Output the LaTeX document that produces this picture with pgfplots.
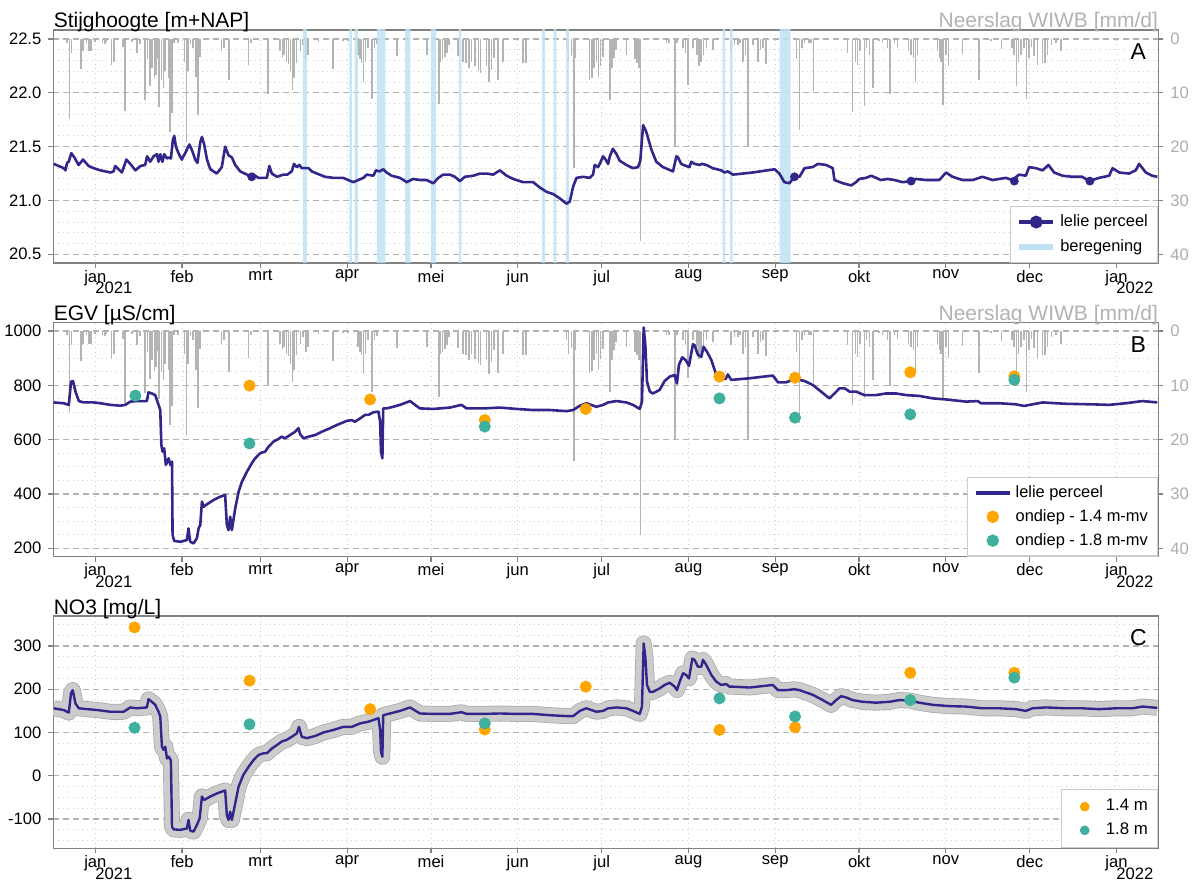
\documentclass[border=0pt]{standalone}
\usepackage{fontspec}
\setmainfont{Liberation Sans}
\usepackage{pgfplots}
\pgfplotsset{compat=1.18}
\usepackage{pgfplotstable}

\definecolor{lelie}{RGB}{49,38,138}
\definecolor{oranje}{RGB}{255,165,0}
\definecolor{teal2}{RGB}{64,176,158}
\definecolor{bereg}{RGB}{190,226,244}
\definecolor{rain}{RGB}{180,180,180}
\definecolor{axgray}{RGB}{130,130,130}

% precipitation WIWB (day since 2021-01-01, mm/d)
\pgfplotstableread{
day mm
-10.2 0.7
-9.3 14.9
-8.5 2.6
-5.2 5.5
-4.5 2.3
-3.1 0.7
-2.3 2.3
-1.6 2.3
-0.1 0.5
2.5 0.7
3.4 0.9
4.0 0.6
5.8 4.9
6.7 4.2
9.8 1.5
10.6 13.3
13.0 0.5
14.8 2.6
15.9 0.9
17.7 11.4
18.6 3.8
19.5 8.8
20.3 5.4
21.1 7.2
21.7 6.6
22.4 3.7
22.8 12.6
23.6 7.6
24.3 9.1
25.0 6.0
26.1 7.2
26.7 17.3
27.4 13.8
28.1 0.7
29.5 0.7
31.8 4.2
32.6 19.1
33.2 6.0
34.0 0.9
35.0 1.7
35.9 7.1
36.6 14.2
37.4 3.4
45.1 2.3
45.9 1.7
47.7 7.6
54.7 4.9
55.6 0.7
61.8 10.2
65.9 2.3
66.9 3.4
67.5 3.0
68.3 4.2
69.0 4.6
69.7 6.0
70.4 9.4
70.9 7.2
71.9 4.5
73.3 2.3
74.3 1.1
75.2 3.8
76.0 3.0
79.8 0.6
85.0 5.5
88.5 0.4
90.3 0.4
93.9 3.0
94.5 3.8
95.1 4.5
95.9 7.9
96.6 4.2
97.5 1.7
98.9 11.2
99.8 1.7
100.7 0.9
107.8 3.1
118.6 2.9
122.8 12.1
123.4 4.2
124.1 3.8
124.9 3.4
125.8 2.6
126.5 1.1
129.7 3.2
131.5 4.2
132.5 4.5
133.6 5.3
134.5 4.2
135.7 5.1
136.9 5.9
137.7 6.3
139.8 5.1
140.7 8.0
141.6 5.7
142.4 3.5
144.0 7.7
145.8 4.2
152.9 4.5
153.9 4.5
168.4 1.7
169.2 4.2
170.2 3.2
171.0 23.9
171.7 3.5
176.7 7.7
177.6 7.3
178.3 5.3
179.1 4.2
179.9 7.1
180.6 5.1
181.5 3.3
183.9 11.3
184.7 5.4
185.4 3.5
186.2 2.0
189.8 3.0
192.8 3.8
193.6 4.5
194.3 5.4
194.9 37.5
204.1 0.7
205.0 0.7
207.1 20.0
207.9 0.7
210.0 1.7
210.9 2.6
211.8 8.6
213.6 1.7
215.0 3.0
215.8 5.1
216.6 4.2
217.4 3.0
218.4 1.7
220.8 2.0
227.3 2.6
228.5 1.1
229.7 1.1
230.5 0.7
231.5 4.2
232.4 3.0
233.3 20.0
235.0 1.1
236.8 4.2
237.7 2.0
238.6 1.7
239.8 4.6
250.7 3.8
251.7 16.9
252.6 1.7
253.5 0.7
255.2 0.7
255.9 0.7
256.7 9.6
268.9 2.6
270.7 13.6
271.7 4.2
272.5 4.8
273.3 2.3
274.9 12.4
275.7 1.7
276.7 3.0
277.9 9.1
280.2 0.4
281.4 0.7
283.2 1.7
284.0 10.2
285.6 0.7
286.8 1.4
290.7 2.3
291.5 3.0
292.4 3.5
293.1 7.9
293.9 3.0
301.1 2.3
301.7 3.5
302.3 4.2
303.1 12.3
304.0 3.0
305.0 5.0
310.0 2.8
315.9 7.7
320.1 0.4
323.9 1.9
327.6 1.7
328.4 3.0
329.3 8.8
330.0 4.2
330.8 3.0
332.0 1.7
332.8 11.2
333.8 3.5
334.6 1.4
335.6 3.2
336.8 4.9
338.5 4.5
339.5 4.5
340.3 3.0
341.8 1.1
343.3 0.7
345.1 2.3
}\precip

% Stijghoogte lelie perceel (m+NAP)
\pgfplotstableread{
day h
-14.9 21.34
-11.3 21.30
-10.7 21.28
-10.1 21.35
-9.5 21.36
-8.6 21.44
-7.5 21.40
-6.0 21.33
-4.4 21.38
-2.4 21.32
-0.6 21.30
1.8 21.28
5.4 21.26
6.5 21.27
7.1 21.32
8.3 21.29
9.5 21.26
11.1 21.38
12.5 21.34
14.3 21.28
16.1 21.32
17.8 21.33
18.5 21.41
19.6 21.36
20.8 21.41
22.0 21.43
22.6 21.36
23.2 21.43
24.0 21.36
24.6 21.43
25.6 21.39
26.2 21.40
27.0 21.39
27.7 21.56
28.2 21.60
28.8 21.50
29.7 21.44
30.9 21.38
32.1 21.44
33.6 21.52
34.5 21.47
35.7 21.38
36.5 21.35
37.5 21.54
38.1 21.59
38.9 21.52
39.9 21.38
41.1 21.29
43.4 21.25
45.2 21.31
46.4 21.50
47.6 21.42
48.8 21.40
50.0 21.33
51.8 21.27
54.2 21.24
55.3 21.22
56.5 21.24
58.3 21.21
61.3 21.21
62.2 21.32
63.1 21.25
64.9 21.22
67.2 21.24
68.6 21.24
70.2 21.27
71.0 21.34
72.0 21.31
72.9 21.33
73.8 21.30
75.0 21.30
76.2 21.30
77.4 21.27
79.2 21.25
82.1 21.22
85.1 21.21
88.6 21.21
90.4 21.19
92.2 21.17
94.0 21.19
95.8 21.21
97.0 21.24
99.4 21.23
100.3 21.28
101.7 21.27
102.9 21.29
104.1 21.26
105.9 21.23
108.9 21.21
111.3 21.17
113.6 21.20
116.0 21.19
118.4 21.19
120.8 21.16
122.6 21.21
124.3 21.24
126.7 21.24
128.5 21.22
130.3 21.18
132.1 21.22
135.1 21.23
137.5 21.25
139.9 21.25
142.2 21.24
144.6 21.28
147.0 21.23
149.4 21.20
152.9 21.17
156.5 21.17
158.9 21.12
161.3 21.08
163.6 21.06
166.0 21.02
168.4 20.97
169.6 20.99
170.8 21.13
172.0 21.21
174.3 21.22
176.7 21.21
177.9 21.24
178.5 21.33
179.7 21.31
180.3 21.34
181.5 21.41
182.4 21.38
183.3 21.34
183.9 21.41
185.0 21.48
186.3 21.43
187.4 21.37
189.8 21.33
192.2 21.30
194.0 21.31
194.8 21.37
195.8 21.70
196.9 21.64
198.8 21.47
200.5 21.36
202.9 21.31
206.5 21.27
207.7 21.41
208.3 21.40
209.4 21.34
211.2 21.32
212.4 21.31
213.0 21.36
214.2 21.34
216.0 21.33
216.9 21.34
218.4 21.33
220.7 21.30
223.7 21.28
224.9 21.26
226.1 21.27
227.9 21.24
235.0 21.26
242.8 21.29
244.5 21.25
246.3 21.17
248.1 21.16
249.9 21.22
251.7 21.22
253.5 21.30
256.4 21.31
258.3 21.34
261.2 21.33
263.6 21.30
264.2 21.19
267.2 21.16
270.2 21.14
271.9 21.17
273.1 21.20
275.5 21.21
277.3 21.23
279.1 21.21
280.8 21.19
283.2 21.20
285.6 21.19
288.6 21.17
291.6 21.18
293.3 21.20
296.9 21.19
301.7 21.19
304.1 21.26
306.4 21.22
310.0 21.19
313.6 21.19
317.1 21.22
320.7 21.19
325.5 21.21
327.8 21.19
330.2 21.24
332.6 21.23
333.8 21.31
336.2 21.30
338.6 21.28
340.7 21.33
342.7 21.26
345.7 21.23
349.3 21.22
352.8 21.22
355.2 21.18
358.8 21.21
362.4 21.23
363.6 21.30
366.0 21.26
369.5 21.25
371.9 21.28
373.1 21.34
375.5 21.26
377.8 21.23
379.6 21.22
}\stijg

\pgfplotstableread{
day h
55.9 21.22
249.9 21.22
291.6 21.18
328.5 21.18
355.5 21.18
}\stijgpunt

% EGV lelie perceel (uS/cm)
\pgfplotstableread{
day egv
-14.9 737
-11.3 734
-9.5 728
-8.7 813
-8.0 816
-7.1 777
-5.9 742
-4.2 737
-0.6 737
1.8 734
5.4 728
8.9 725
10.7 728
12.5 740
14.9 742
18.4 742
19.0 774
20.2 770
21.4 764
22.6 728
23.2 709
23.6 580
24.0 556
24.6 568
25.2 507
26.2 531
26.8 507
27.4 519
27.6 249
28.2 227
30.4 224
32.7 230
33.3 273
33.9 224
35.1 218
36.3 237
36.9 273
37.5 286
38.1 372
38.7 353
39.9 362
42.3 378
44.6 390
46.4 396
47.0 286
47.6 267
48.2 316
48.8 267
50.0 347
51.2 408
52.4 445
54.2 482
55.9 513
57.1 531
58.9 550
60.7 556
61.9 574
63.7 593
65.4 602
66.6 611
67.8 605
69.6 617
71.4 629
72.6 642
73.2 620
74.4 605
76.2 611
78.6 617
80.9 629
83.9 642
86.3 654
89.9 669
91.6 672
92.8 666
94.6 678
96.4 691
97.6 691
99.4 701
101.2 703
101.8 666
102.1 556
102.6 531
102.9 715
104.1 715
106.5 721
108.9 728
112.5 742
114.3 728
116.0 715
120.8 713
126.7 718
130.9 728
132.7 715
138.7 715
144.6 718
150.6 713
156.5 709
162.5 709
168.4 705
170.8 709
173.2 725
175.5 734
179.1 721
181.5 728
183.3 737
186.3 742
189.8 737
192.2 728
194.6 713
195.4 740
196.0 1013
196.6 948
197.2 813
198.2 777
199.3 770
201.7 783
203.5 816
205.3 832
207.1 838
207.9 807
208.6 875
209.8 903
211.0 893
212.2 872
213.6 951
214.2 948
215.4 912
216.6 905
217.4 942
218.6 924
220.2 893
221.9 840
223.1 832
225.3 823
226.1 840
227.3 820
233.9 826
242.2 836
244.0 811
246.9 811
249.9 823
251.7 820
253.5 816
256.5 801
259.4 777
262.4 752
264.2 770
266.0 789
267.8 789
269.6 777
271.9 777
274.9 764
279.1 764
282.6 770
286.2 770
289.8 764
294.5 761
299.3 752
304.1 748
311.2 740
315.4 742
316.6 734
323.1 734
329.1 730
332.0 724
335.0 730
338.6 737
346.9 732
356.4 730
362.4 728
368.3 734
374.3 742
379.6 737
}\egv

\pgfplotstableread{
day v
55.1 799
98.2 748
139.2 672
175.3 713
223.1 832
250.1 828
291.3 848
328.5 833
}\egvor
\pgfplotstableread{
day v
14.3 762
55.1 586
139.2 648
223.1 752
250.1 681
291.3 693
328.5 820
}\egvte

% NO3 (mg/L)
\pgfplotstableread{
day no
-14.9 156
-11.3 152
-9.5 146
-8.7 191
-8.1 198
-7.1 167
-5.9 156
-2.9 154
0.6 152
5.4 148
10.1 148
12.5 158
14.9 156
18.4 158
19.0 177
20.2 171
21.4 164
22.6 148
23.2 137
23.8 67
24.4 60
25.0 67
25.6 40
26.2 44
27.0 36
27.4 -118
28.0 -124
30.4 -125
32.7 -122
33.3 -102
33.9 -127
35.1 -129
36.3 -114
37.3 -98
38.1 -48
38.9 -56
41.1 -48
43.4 -41
46.4 -34
47.0 -91
47.6 -102
48.2 -83
48.8 -102
50.0 -64
51.2 -25
52.9 2
54.8 21
56.5 36
58.3 48
60.1 52
61.3 52
63.1 63
64.9 71
66.6 79
68.4 83
70.2 90
72.0 98
72.8 113
73.8 90
75.6 87
78.6 92
81.5 100
85.1 106
88.6 113
91.6 113
94.6 121
97.6 125
99.4 129
101.2 133
101.8 106
102.1 56
102.6 44
102.9 140
105.3 144
108.9 150
112.5 158
116.0 144
120.8 143
126.7 143
130.9 147
132.7 143
138.7 143
144.6 144
150.6 143
156.5 143
162.5 140
168.4 138
170.8 138
173.2 150
175.5 156
179.1 148
181.5 150
183.3 156
186.3 158
189.8 156
192.2 150
194.6 143
195.4 160
196.0 306
196.6 275
197.2 210
198.2 194
199.3 194
201.7 202
203.5 210
205.3 215
207.1 206
207.9 198
208.9 218
210.1 237
211.2 233
212.2 225
213.4 271
214.2 268
215.4 252
216.6 252
217.2 268
218.4 256
220.2 233
221.9 218
223.7 210
225.5 212
226.7 206
227.9 206
233.9 204
242.2 210
244.0 198
246.9 198
249.9 200
251.7 198
256.5 187
260.0 175
263.0 164
264.8 175
266.6 184
268.4 181
270.7 175
274.3 171
279.1 169
283.8 171
287.4 175
291.0 174
294.5 169
299.3 164
305.3 161
311.2 160
317.2 156
323.1 156
329.1 154
332.6 150
335.0 156
339.8 158
346.9 156
352.9 156
358.8 154
364.8 156
370.7 156
374.3 160
379.6 157
}\nitraat

\pgfplotstableread{
day v
14.0 343
55.1 220
98.2 154
139.2 107
175.3 206
223.1 106
250.1 112
291.3 238
328.5 238
}\noor
\pgfplotstableread{
day v
14.0 111
55.1 119
139.2 121
223.1 179
250.1 137
291.3 175
328.5 227
}\note

\pgfplotsset{
  base/.style={
    scale only axis, width=552.5pt,
    xmin=-15, xmax=380,
    xtick={0,31,59,90,120,151,181,212,243,273,304,334,365},
    xtick pos=bottom,
    axis line style={axgray, line width=0.7pt},
    tick style={axgray, line width=0.6pt},
    major tick length=2.5pt, minor tick length=0pt,
    tick align=outside,
    tick label style={font=\fontsize{8.3}{9.4}\selectfont},
    /pgf/number format/assume math mode=true,
  },
  pgrid/.style={
    xmajorgrids, ymajorgrids, yminorgrids,
    major x grid style={gray!40, dotted, line width=0.5pt},
    major y grid style={gray!60, dash pattern=on 3pt off 2pt, line width=0.6pt},
    minor y grid style={gray!40, dotted, line width=0.5pt},
  },
  xlabs/.style={
    xticklabels={{jan\\[-3.5pt]\rlap{2021}},feb,mrt,apr,mei,jun,jul,aug,sep,okt,nov,dec,{jan\\[-3.5pt]\rlap{2022}}},
    xticklabel style={align=center, yshift=2.5pt},
  },
  leg/.style={
    legend cell align=left,
    legend style={at={(1,0)}, anchor=south east, draw=gray!40, line width=0.6pt,
      fill=white, font=\fontsize{8.2}{9.4}\selectfont, inner xsep=3pt, inner ysep=2pt,
      row sep=0pt},
  },
  wideimg/.style={
    legend image code/.code={%
      \path[draw=none,fill=none] (0cm,0cm) (0.6cm,0cm);
      \draw[mark repeat=2,mark phase=2,##1] plot coordinates {(0cm,0cm) (0.3cm,0cm) (0.6cm,0cm)};}
  },
}

\begin{document}
\begin{tikzpicture}
\useasboundingbox (-26.7pt,15pt) rectangle (573.3pt,-426pt);

% ================= Panel A =================
\begin{axis}[base, pgrid, at={(0,0)}, anchor=north west, height=116.5pt,
  y dir=reverse, ymin=-1.68, ymax=41.62,
  ytick={0,10,20,30,40},
  minor ytick={2,4,6,8,12,14,16,18,22,24,26,28,32,34,36,38},
  ytick pos=right, yticklabel pos=right,
  yticklabel style={text=gray!65},
  xticklabels={}]
\addplot[ycomb, rain, line width=0.8pt] table[x=day,y=mm] {\precip};
\end{axis}
\begin{axis}[base, xlabs, leg, name=A, at={(0,0)}, anchor=north west, height=116.5pt,
  ymin=20.419, ymax=22.584,
  ytick={20.5,21,21.5,22,22.5}, ytick pos=left,
  yticklabel style={/pgf/number format/.cd, fixed, fixed zerofill, precision=1},
  legend style={row sep=1pt}]
\addplot[fill=bereg, draw=none, opacity=0.85, forget plot] coordinates {(74.2,20) (75.6,20) (75.6,23) (74.2,23) (74.2,20)};
\addplot[fill=bereg, draw=none, opacity=0.85, forget plot] coordinates {(90.8,20) (91.7,20) (91.7,23) (90.8,23) (90.8,20)};
\addplot[fill=bereg, draw=none, opacity=0.85, forget plot] coordinates {(92.7,20) (93.8,20) (93.8,23) (92.7,23) (92.7,20)};
\addplot[fill=bereg, draw=none, opacity=0.85, forget plot] coordinates {(100.6,20) (103.7,20) (103.7,23) (100.6,23) (100.6,20)};
\addplot[fill=bereg, draw=none, opacity=0.85, forget plot] coordinates {(110.7,20) (112.6,20) (112.6,23) (110.7,23) (110.7,20)};
\addplot[fill=bereg, draw=none, opacity=0.85, forget plot] coordinates {(119.9,20) (121.7,20) (121.7,23) (119.9,23) (119.9,20)};
\addplot[fill=bereg, draw=none, opacity=0.85, forget plot] coordinates {(129.9,20) (130.8,20) (130.8,23) (129.9,23) (129.9,20)};
\addplot[fill=bereg, draw=none, opacity=0.85, forget plot] coordinates {(159.7,20) (160.7,20) (160.7,23) (159.7,23) (159.7,20)};
\addplot[fill=bereg, draw=none, opacity=0.85, forget plot] coordinates {(163.8,20) (164.8,20) (164.8,23) (163.8,23) (163.8,20)};
\addplot[fill=bereg, draw=none, opacity=0.85, forget plot] coordinates {(168.3,20) (169.3,20) (169.3,23) (168.3,23) (168.3,20)};
\addplot[fill=bereg, draw=none, opacity=0.85, forget plot] coordinates {(224.2,20) (225.1,20) (225.1,23) (224.2,23) (224.2,20)};
\addplot[fill=bereg, draw=none, opacity=0.85, forget plot] coordinates {(226.9,20) (227.8,20) (227.8,23) (226.9,23) (226.9,20)};
\addplot[fill=bereg, draw=none, opacity=0.85, forget plot] coordinates {(244.6,20) (248.5,20) (248.5,23) (244.6,23) (244.6,20)};
\addplot[lelie, line width=1.3pt, line join=round, forget plot] table[x=day,y=h] {\stijg};
\addplot[lelie, only marks, mark=*, mark size=2pt, forget plot] table[x=day,y=h] {\stijgpunt};
\addlegendimage{lelie, line width=1.8pt, mark=*, mark size=2.3pt}
\addlegendentry{lelie perceel}
\addlegendimage{bereg, line width=3pt}
\addlegendentry{beregening}
\end{axis}
\node[anchor=base west, inner sep=0, font=\fontsize{10.5}{12}\selectfont] at ([yshift=1pt]A.north west) {Stijghoogte [m+NAP]};
\node[anchor=base east, inner sep=0, text=gray!60, font=\fontsize{10.5}{12}\selectfont] at ([yshift=1pt]A.north east) {Neerslag WIWB [mm/d]};
\node[font=\fontsize{11.5}{13}\selectfont, inner sep=0] at ([xshift=-10pt,yshift=-11pt]A.north east) {A};

% ================= Panel B =================
\begin{axis}[base, pgrid, at={(0,-146.35pt)}, anchor=north west, height=117pt,
  y dir=reverse, ymin=-1.53, ymax=41.55,
  ytick={0,10,20,30,40},
  minor ytick={2.5,5,7.5,12.5,15,17.5,22.5,25,27.5,32.5,35,37.5},
  ytick pos=right, yticklabel pos=right,
  yticklabel style={text=gray!65},
  xticklabels={}]
\addplot[ycomb, rain, line width=0.8pt] table[x=day,y=mm] {\precip};
\end{axis}
\begin{axis}[base, xlabs, leg, name=B, at={(0,-146.35pt)}, anchor=north west, height=117pt,
  ymin=169, ymax=1030.6,
  ytick={200,400,600,800,1000}, ytick pos=left,
  yticklabel style={/pgf/number format/1000 sep={}},
  legend style={row sep=0.5pt}]
\addplot[lelie, line width=1.3pt, line join=round, forget plot] table[x=day,y=egv] {\egv};
\addplot[oranje, only marks, mark=*, mark size=2.8pt, forget plot] table[x=day,y=v] {\egvor};
\addplot[teal2, only marks, mark=*, mark size=2.8pt, forget plot] table[x=day,y=v] {\egvte};
\addlegendimage{lelie, line width=1.8pt}
\addlegendentry{lelie perceel}
\addlegendimage{oranje, only marks, mark=*, mark size=2.8pt}
\addlegendentry{ondiep - 1.4 m-mv}
\addlegendimage{teal2, only marks, mark=*, mark size=2.8pt}
\addlegendentry{ondiep - 1.8 m-mv}
\end{axis}
\node[anchor=base west, inner sep=0, font=\fontsize{10.5}{12}\selectfont] at ([yshift=1pt]B.north west) {EGV [µS/cm]};
\node[anchor=base east, inner sep=0, text=gray!60, font=\fontsize{10.5}{12}\selectfont] at ([yshift=1pt]B.north east) {Neerslag WIWB [mm/d]};
\node[font=\fontsize{11.5}{13}\selectfont, inner sep=0] at ([xshift=-10pt,yshift=-11pt]B.north east) {B};

% ================= Panel C =================
\begin{axis}[base, pgrid, xlabs, leg, name=C, at={(0,-293pt)}, anchor=north west, height=116.15pt,
  ymin=-167.7, ymax=369.4,
  ytick={-100,0,100,200,300},
  minor ytick={-150,-125,-75,-50,-25,25,50,75,125,150,175,225,250,275,325,350},
  ytick pos=left,
  legend style={row sep=0.5pt, inner xsep=3pt, inner ysep=3pt, font=\fontsize{8.4}{9.6}\selectfont}]
\addplot[gray!65, line width=8pt, line join=round, forget plot] table[x=day,y=no] {\nitraat};
\addplot[gray!40, line width=7.2pt, line join=round, forget plot] table[x=day,y=no] {\nitraat};
\addplot[lelie, line width=1.2pt, line join=round, forget plot] table[x=day,y=no] {\nitraat};
\addplot[oranje, only marks, mark=*, mark size=2.8pt, forget plot] table[x=day,y=v] {\noor};
\addplot[teal2, only marks, mark=*, mark size=2.8pt, forget plot] table[x=day,y=v] {\note};
\addlegendimage{wideimg, oranje, only marks, mark=*, mark size=2.1pt}
\addlegendentry{1.4 m}
\addlegendimage{wideimg, teal2, only marks, mark=*, mark size=2.1pt}
\addlegendentry{1.8 m}
\end{axis}
\node[anchor=base west, inner sep=0, font=\fontsize{10.5}{12}\selectfont] at ([yshift=1pt]C.north west) {NO3 [mg/L]};
\node[font=\fontsize{11.5}{13}\selectfont, inner sep=0] at ([xshift=-10pt,yshift=-11pt]C.north east) {C};
\end{tikzpicture}
\end{document}
